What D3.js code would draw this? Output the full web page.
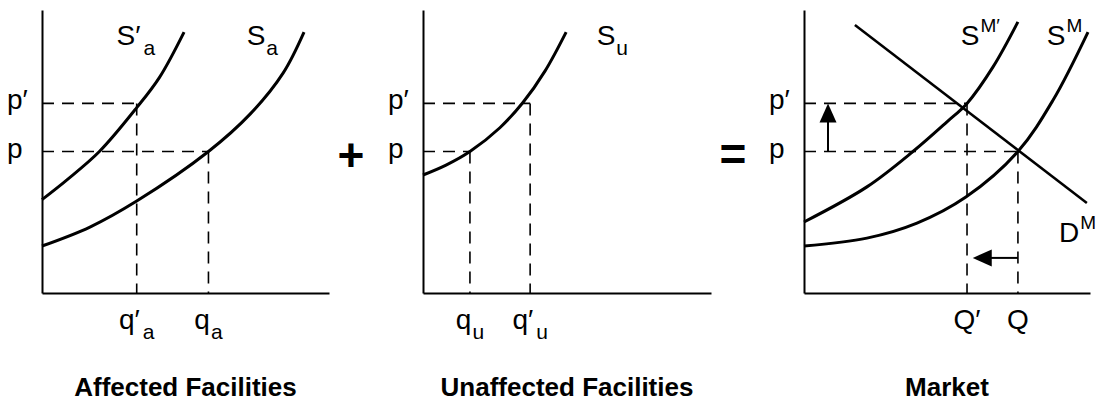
<!DOCTYPE html>
<html lang="en">
<head>
<meta charset="UTF-8">
<title>Supply shift: affected + unaffected = market</title>
<script src="https://cdn.jsdelivr.net/npm/d3@7"></script>
<style>
  body { margin: 0; background: #fff; }
  svg { display: block; font-family: "Liberation Sans", Arial, Helvetica, sans-serif; }
</style>
</head>
<body>
<div class="container"></div>
<script>
// price levels shared by the three panels (0-100 on the price axis)
const priceLevels = [
  { base: "p", prime: false, value: 50 },
  { base: "p", prime: true, value: 67 }
];

// panel titles
const titles = ["Affected Facilities", "Unaffected Facilities", "Market"];

// affected facilities: supply before (Sa) and after (S'a) the regulation
const curveSaPrime = [[0, 33], [8.7, 40], [20, 50], [33, 65.5], [41, 76.3], [49.5, 92.2]];
const curveSa = [[0, 16.6], [16.7, 23.3], [33, 32.5], [58, 50], [72.5, 63.2], [84, 77.7], [91.3, 92.2]];
const qAffected = [
  { base: "q", prime: true, sub: "a", q: 33, price: 67 },
  { base: "q", prime: false, sub: "a", q: 58, price: 50 }
];

// unaffected facilities
const curveSu = [[0, 41.7], [8, 45.2], [16.3, 50], [26.7, 58.4], [34.7, 67.3], [42.4, 78.5], [49.7, 92.2]];
const qUnaffected = [
  { base: "q", prime: false, sub: "u", q: 16.3, price: 50 },
  { base: "q", prime: true, sub: "u", q: 37.2, price: 67 }
];

// market
const curveSMPrime = [[0, 25.1], [22, 37.5], [38.1, 50], [50, 60.5], [57, 67], [66.1, 79.9], [74.8, 95.8]];
const curveSM = [[0, 16.6], [22, 19.4], [39.5, 24.7], [56.6, 33.9], [74.8, 50], [87.1, 68.2], [99.3, 92.2]];
const demandDM = [[17.8, 94.7], [98.9, 31.8]];
const qMarket = [
  { base: "Q", prime: true, sub: null, q: 57, price: 67 },
  { base: "Q", prime: false, sub: null, q: 74.8, price: 50 }
];
const priceShift = { q: 8.4, from: 50, to: 67 };      // arrow up along the price axis
const quantityShift = { price: 12.4, from: 74.8, to: 59 }; // arrow back from Q to Q'

const width = 1104, height = 414;
const svg = d3.select(".container").append("svg")
  .attr("width", width)
  .attr("height", height)
  .attr("viewBox", [0, 0, width, height]);

const y = d3.scaleLinear().domain([0, 100]).range([293, 10]);
const frames = [[42, 329], [423, 711], [804, 1090]];
const xs = frames.map(r => d3.scaleLinear().domain([0, 100]).range(r));

// text with a prime, a subscript or a superscript
function richLabel(g, px, py, d, anchor = "start") {
  const t = g.append("text")
    .attr("x", px).attr("y", py)
    .attr("text-anchor", anchor)
    .attr("font-size", 28)
    .attr("fill", "#000");
  t.append("tspan").text(d.base + (d.prime ? "′" : ""));
  if (d.sub) t.append("tspan").attr("font-size", 21).attr("dx", d.prime ? 3 : 1).attr("dy", 10).text(d.sub);
  if (d.sup) t.append("tspan").attr("font-size", 19).attr("dx", 1).attr("dy", -13).text(d.sup);
  return t;
}

function drawPanel(i, curves, guides) {
  const x = xs[i];
  const g = svg.append("g");

  // dashed guide lines
  const gd = g.append("g")
    .attr("fill", "none").attr("stroke", "#000")
    .attr("stroke-width", 1.6).attr("stroke-dasharray", "12,8");
  gd.selectAll(".h").data(guides).join("path")
    .attr("d", d => `M${x(0)},${y(d.price)}H${x(d.q)}`);
  gd.selectAll(".v").data(guides).join("path")
    .attr("d", d => `M${x(d.q)},${y(d.price)}V${y(0)}`);

  // axes, no ticks
  g.append("g").attr("transform", `translate(${x(0)},0)`)
    .call(d3.axisLeft(y).tickValues([]).tickSizeOuter(0))
    .call(a => a.select(".domain").attr("stroke-width", 2));
  g.append("g").attr("transform", `translate(0,${y(0)})`)
    .call(d3.axisBottom(x).tickValues([]).tickSizeOuter(0))
    .call(a => a.select(".domain").attr("stroke-width", 2));

  // curves
  const line = d3.line().x(d => x(d[0])).y(d => y(d[1])).curve(d3.curveCatmullRom.alpha(0.5));
  g.selectAll(".curve").data(curves).join("path")
    .attr("fill", "none").attr("stroke", "#000")
    .attr("stroke-width", d => d.w || 3)
    .attr("d", d => line(d.points));
  curves.forEach(c => richLabel(g, x(c.at[0]), y(c.at[1]), c.name));

  // price labels
  priceLevels.forEach(p => richLabel(g, x(0) - 35, y(p.value) + 6, p));

  // quantity labels
  guides.forEach(d => richLabel(g, x(d.q), y(0) + 36, d, "middle"));

  // title
  g.append("text")
    .attr("x", (x(0) + x(100)) / 2).attr("y", y(0) + 103)
    .attr("text-anchor", "middle")
    .attr("font-size", 26).attr("font-weight", "bold")
    .text(titles[i]);
  return g;
}

drawPanel(0, [
  { name: { base: "S", prime: true, sub: "a" }, points: curveSaPrime, at: [26, 87.6] },
  { name: { base: "S", prime: false, sub: "a" }, points: curveSa, at: [71.3, 87.6] }
], qAffected);

drawPanel(1, [
  { name: { base: "S", prime: false, sub: "u" }, points: curveSu, at: [60.3, 87.6] }
], qUnaffected);

const market = drawPanel(2, [
  { name: { base: "S", prime: false, sup: "M′" }, points: curveSMPrime, at: [54.8, 87.6] },
  { name: { base: "S", prime: false, sup: "M" }, points: curveSM, at: [84.9, 87.6] },
  { name: { base: "D", prime: false, sup: "M" }, points: demandDM, at: [89.2, 18], w: 2.5 }
], qMarket);

// shift arrows in the market panel
const xm = xs[2];
const head = 19, half = 8.5;
market.append("path")
  .attr("stroke", "#000").attr("stroke-width", 2)
  .attr("d", `M${xm(priceShift.q)},${y(priceShift.from)}V${y(priceShift.to) + head - 2}`);
market.append("path")
  .attr("fill", "#000")
  .attr("d", `M${xm(priceShift.q)},${y(priceShift.to)}l${-half},${head}h${2 * half}z`);
market.append("path")
  .attr("stroke", "#000").attr("stroke-width", 2)
  .attr("d", `M${xm(quantityShift.from)},${y(quantityShift.price)}H${xm(quantityShift.to) + head - 2}`);
market.append("path")
  .attr("fill", "#000")
  .attr("d", `M${xm(quantityShift.to)},${y(quantityShift.price)}l${head},${-half}v${2 * half}z`);

// operators between panels
svg.append("text").attr("x", 351).attr("y", 171)
  .attr("text-anchor", "middle").attr("font-size", 46).attr("font-weight", "bold").text("+");
svg.append("text").attr("x", 733).attr("y", 170)
  .attr("text-anchor", "middle").attr("font-size", 46).attr("font-weight", "bold").text("=");
</script>
</body>
</html>
